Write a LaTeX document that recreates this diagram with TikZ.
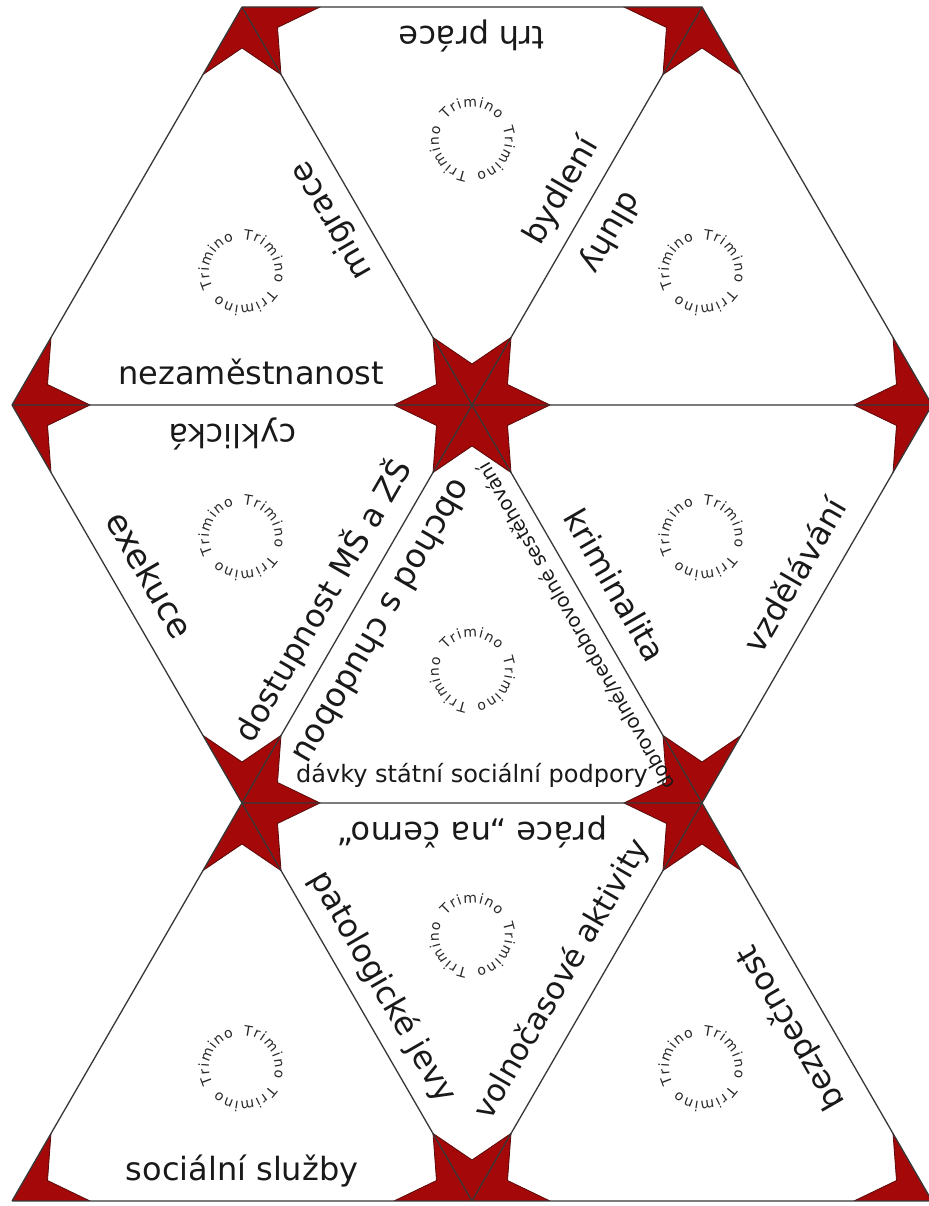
\documentclass[tikz,border=0pt]{standalone}
\usepackage{fontspec}
\setmainfont{DejaVu Sans}
\usetikzlibrary{positioning}
\usetikzlibrary{calc}

\definecolor{starred}{RGB}{165,8,8}
\definecolor{starline}{RGB}{90,10,10}
\definecolor{edgegray}{RGB}{55,55,55}
\definecolor{trimgray}{RGB}{40,40,40}

\begin{document}
\begin{tikzpicture}[x=1pt, y=1pt,
    edge/.style={draw=edgegray, line width=1.3pt},
    starpt/.style={fill=starred, draw=starline, line width=0.8pt},
    lbl/.style={font=\fontsize{32}{32}\selectfont, text=black!90, inner sep=0pt,
        anchor=base, sloped, allow upside down, yshift=#1},
    lbl/.default=20pt,
    trimch/.style={font=\fontsize{14}{14}\selectfont, text=trimgray, anchor=base, inner sep=0pt}]

    \useasboundingbox (0,0) rectangle (928,1206);
    \fill[white] (0,0) rectangle (928,1206);

    % lattice points
    \coordinate (b2) at (472,801);
    \coordinate [left=460pt of b2] (b1);
    \coordinate [right=460pt of b2] (b3);
    \coordinate [above left=398pt and 230pt of b2] (a1);
    \coordinate [above right=398pt and 230pt of b2] (a2);
    \coordinate [below left=398pt and 230pt of b2] (c1);
    \coordinate [below right=398pt and 230pt of b2] (c2);
    \coordinate [below left=398pt and 230pt of c1] (d1);
    \coordinate [below right=398pt and 230pt of c1] (d2);
    \coordinate [right=460pt of d2] (d3);

    % stars
    \begin{scope}
        \clip (a1) -- (a2) -- (b3) -- (c2) -- (d3) -- (d1) -- (c1) -- (b1) -- cycle;
        \foreach \v in {a1,a2,b1,b2,b3,c1,c2,d1,d2,d3}
            \filldraw[starpt] ($(\v)+(0:78)$)
                \foreach \k in {1,...,6} { -- ($(\v)+(\k*60-30:41)$) -- ($(\v)+(\k*60:78)$) } -- cycle;
    \end{scope}

    \draw[edge] (a1) -- (a2) (b1) -- (b3) (c1) -- (c2) (d1) -- (d3)
        (a1) -- (b1) (a2) -- (b3) (a1) -- (d3) (a2) -- (d1) (b1) -- (d2) (b3) -- (d2);

    % labels
    \path (b1) -- node[lbl, pos=.52] {nezaměstnanost} (b2);
    \path (b2) -- node[lbl, pos=.5] {migrace} (a1);
    \path (a2) -- node[lbl] {trh práce} (a1);
    \path (b2) -- node[lbl, pos=.5] {bydlení} (a2);
    \path (a2) -- node[lbl=24pt, pos=.525] {dluhy} (b2);
    \path (b2) -- node[lbl, pos=.52] {cyklická} (b1);
    \path (b1) -- node[lbl=22pt, pos=.47, font=\fontsize{34}{34}\selectfont] {exekuce} (c1);
    \path (c1) -- node[lbl, pos=.47] {dostupnost MŠ a ZŠ} (b2);
    \path (b2) -- node[lbl, pos=.505, font=\fontsize{33}{33}\selectfont] {obchod s chudobou} (c1);
    \path (c2) -- node[lbl=14pt, pos=.47, font=\fontsize{19.5}{19.5}\selectfont] {dobrovolné/nedobrovolné sestěhování} (b2);
    \path (c1) -- node[lbl, font=\fontsize{24}{24}\selectfont] {dávky státní sociální podpory} (c2);
    \path (b2) -- node[lbl=22pt, pos=.495] {kriminalita} (c2);
    \path (c2) -- node[lbl=22pt, pos=.53] {vzdělávání} (b3);
    \path (d1) -- node[lbl] {sociální služby} (d2);
    \path (c1) -- node[lbl, pos=.5] {patologické jevy} (d2);
    \path (d2) -- node[lbl=24pt, pos=.515, font=\fontsize{31}{31}\selectfont] {volnočasové aktivity} (c2);
    \path (c2) -- node[lbl] {práce „na černo“} (c1);
    \path (d3) -- node[lbl=26pt, pos=.48] {bezpečnost} (c2);

    % Trimino rings
    \coordinate (m1) at (barycentric cs:b1=1,b2=1,a1=1);
    \coordinate (m2) at (barycentric cs:a1=1,b2=1,a2=1);
    \coordinate (m3) at (barycentric cs:b2=1,b3=1,a2=1);
    \coordinate (m4) at (barycentric cs:b1=1,c1=1,b2=1);
    \coordinate (m5) at (barycentric cs:c1=1,c2=1,b2=1);
    \coordinate (m6) at (barycentric cs:b2=1,c2=1,b3=1);
    \coordinate (m7) at (barycentric cs:d1=1,d2=1,c1=1);
    \coordinate (m8) at (barycentric cs:c1=1,d2=1,c2=1);
    \coordinate (m9) at (barycentric cs:d2=1,d3=1,c2=1);
    \foreach \m/\a in {m1/36,m2/90,m3/36,m4/36,m5/90,m6/36,m7/36,m8/90,m9/36}
        \foreach \k in {0,1,2}
            \foreach \c/\o in {T/44.6,r/30.2,i/19.9,m/2.7,i/-14.4,n/-27.5,o/-44.6}
                \path (\m) ++({\a-\k*120+\o}:33) node[trimch, rotate={\a-\k*120+\o-90}] {\c};
\end{tikzpicture}
\end{document}
